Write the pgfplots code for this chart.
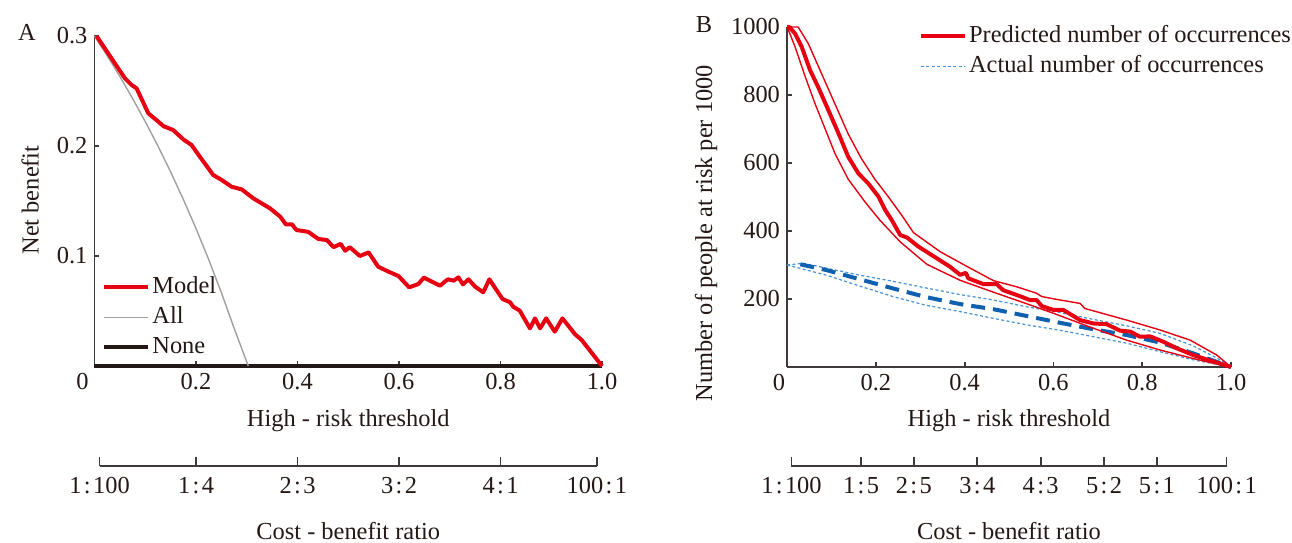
\documentclass[border=0pt]{standalone}
\usepackage{pgfplots}
\pgfplotsset{compat=1.18}
\usepackage{fontspec}
\setmainfont{Liberation Serif}
\definecolor{myred}{RGB}{230,0,18}
\definecolor{allgray}{RGB}{160,160,160}
\definecolor{noneblk}{RGB}{35,24,21}
\definecolor{axisc}{RGB}{62,58,57}
\definecolor{textc}{RGB}{35,24,21}
\definecolor{blueD}{RGB}{16,96,176}
\definecolor{blueL}{RGB}{70,145,215}
\newcommand{\rt}[2]{#1\kern1.2pt:\kern1.2pt#2}
\newcommand{\fs}{\fontsize{12.2}{14}\selectfont}
\pgfplotsset{
  base/.style={scale only axis, axis lines=left,
    axis line style={-, line width=0.9pt, draw=axisc},
    every tick/.style={line width=0.9pt, draw=axisc},
    major tick length=2.5pt, tick align=inside,
    enlargelimits=false, clip=false,
    tick label style={font=\fs, text=textc},
    label style={font=\fs, text=textc},
    /pgf/number format/assume math mode=true},
  cost/.style={scale only axis, axis x line=bottom, axis y line=none,
    axis line style={-, line width=0.9pt, draw=axisc},
    every tick/.style={line width=0.9pt, draw=axisc},
    major tick length=4.5pt, tick align=inside,
    enlargelimits=false, clip=false, height=5pt, ymin=0, ymax=1,
    tick label style={font=\fs, text=textc, yshift=-2pt},
    label style={font=\fs, text=textc},
    xlabel={Cost - benefit ratio},
    xlabel style={at={(axis description cs:0.5,0)}, anchor=center, yshift=-32.5pt}},
  leg/.style={legend cell align=left,
    legend style={draw=none, fill=none, font=\fs, text=textc,
      nodes={text height=9pt, text depth=2.5pt, inner sep=1pt}, row sep=1.5pt},
    legend image code/.code={\draw[##1] (0pt,0pt) -- (22pt,0pt);}}
}
\begin{document}
\begin{tikzpicture}[font=\fs]
\useasboundingbox (0pt,0pt) rectangle (646pt,271pt);
\node[text=textc] at (13.5pt,255pt) {A};
\node[text=textc] at (352pt,258.5pt) {B};
% ---------------- Panel A ----------------
\begin{axis}[base, leg, at={(47.25pt,88pt)}, anchor=south west,
  width=253.75pt, height=165pt, xmin=0, xmax=1, ymin=0, ymax=0.3,
  xtick={0,0.2,0.4,0.6,0.8,1}, xticklabels={\llap{0\hspace{3pt}},0.2,0.4,0.6,0.8,1.0},
  ytick={0.1,0.2,0.3}, yticklabels={0.1,0.2,0.3},
  xlabel={High - risk threshold}, ylabel={Net benefit},
  xlabel style={at={(axis description cs:0.5,-0.167)}, anchor=center},
  ylabel style={at={(axis description cs:-0.127,0.503)}, anchor=center},
  legend style={at={(axis description cs:0.003,0.293)}, anchor=north west}]
\addlegendimage{myred, line width=2pt}
\addlegendentry{Model}
\addlegendimage{allgray, line width=0.7pt}
\addlegendentry{All}
\addlegendimage{noneblk, line width=2pt}
\addlegendentry{None}
\addplot[forget plot, noneblk, line width=2pt] coordinates {(0,0) (1,0)};
\addplot[forget plot, allgray, line width=0.7pt] coordinates {
(0,0.3) (0.025,0.2821) (0.05,0.2632) (0.075,0.2432) (0.1,0.2222) (0.125,0.2)
(0.15,0.1765) (0.175,0.1515) (0.2,0.125) (0.225,0.0968) (0.25,0.0667) (0.275,0.0345) (0.303,0)};
\addplot[forget plot, myred, line width=2pt, line join=round] coordinates {
(0.004,0.300) (0.060,0.2615) (0.073,0.2555) (0.083,0.2524) (0.106,0.2297) (0.122,0.2236)
(0.136,0.218) (0.155,0.2145) (0.175,0.206) (0.191,0.201) (0.208,0.190) (0.234,0.1736)
(0.251,0.169) (0.270,0.163) (0.290,0.1606) (0.313,0.1524) (0.346,0.1433) (0.366,0.1357)
(0.377,0.1288) (0.389,0.1288) (0.398,0.1236) (0.421,0.122) (0.441,0.1155) (0.458,0.1145)
(0.471,0.108) (0.485,0.111) (0.494,0.1048) (0.503,0.108) (0.523,0.100) (0.540,0.1033)
(0.559,0.0903) (0.579,0.0858) (0.599,0.0818) (0.620,0.0715) (0.638,0.0745) (0.649,0.0803)
(0.681,0.073) (0.696,0.0788) (0.708,0.0776) (0.717,0.0806) (0.726,0.0742) (0.737,0.0788)
(0.750,0.0721) (0.766,0.067) (0.778,0.0788) (0.804,0.0609) (0.819,0.0579) (0.825,0.0539)
(0.838,0.0503) (0.858,0.0342) (0.868,0.0433) (0.878,0.0342) (0.890,0.0433) (0.907,0.0312)
(0.922,0.0433) (0.947,0.0288) (0.960,0.0236) (1.0,0.0)};
\end{axis}
\begin{axis}[cost, at={(49.79pt,38pt)}, anchor=south west, width=248.675pt,
  xmin=0.01, xmax=0.99, xtick={0.01,0.2,0.4,0.6,0.8,0.99},
  xticklabels={\rt{1}{100},\rt{1}{4},\rt{2}{3},\rt{3}{2},\rt{4}{1},\rt{100}{1}}]
\addplot[draw=none] coordinates {(0.01,0) (0.99,0)};
\end{axis}
% ---------------- Panel B ----------------
\begin{axis}[base, leg, at={(393.5pt,87.5pt)}, anchor=south west,
  width=222pt, height=170pt, xmin=0, xmax=1, ymin=0, ymax=1000,
  xtick={0,0.2,0.4,0.6,0.8,1}, xticklabels={\llap{0\hspace{1pt}},0.2,0.4,0.6,0.8,1.0},
  ytick={200,400,600,800,1000}, yticklabels={200,400,600,800,1000},
  xlabel={High - risk threshold}, ylabel={Number of people at risk per 1000},
  xlabel style={at={(axis description cs:0.5,-0.159)}, anchor=center},
  ylabel style={at={(axis description cs:-0.182,0.394)}, anchor=center},
  legend style={at={(axis description cs:0.283,1.025)}, anchor=north west}]
\addlegendimage{myred, line width=2pt}
\addlegendentry{Predicted number of occurrences}
\addlegendimage{blueL, line width=0.7pt, dash pattern=on 1.5pt off 1.2pt}
\addlegendentry{Actual number of occurrences}
% blue actual
\addplot[forget plot, blueL, line width=0.6pt, dash pattern=on 1.5pt off 1.2pt] coordinates {
(0,300) (0.037,305) (0.164,270) (0.239,252) (0.315,232) (0.390,213) (0.465,197) (0.540,177)
(0.615,160) (0.690,140) (0.765,121) (0.840,99) (0.915,62) (0.970,25) (1,0)};
\addplot[forget plot, blueL, line width=0.6pt, dash pattern=on 1.5pt off 1.2pt] coordinates {
(0,300) (0.089,270) (0.164,238) (0.239,207) (0.315,181) (0.390,163) (0.465,143) (0.540,124)
(0.615,108) (0.690,89) (0.765,70) (0.840,45) (0.915,21) (1,0)};
\addplot[forget plot, blueD, line width=2pt, dash pattern=on 7pt off 4pt] coordinates {
(0.03,302) (0.089,285) (0.164,258) (0.239,231) (0.315,205) (0.390,185) (0.465,170) (0.540,150)
(0.615,130) (0.690,111) (0.765,94) (0.840,72) (0.915,40) (1,0)};
% red predicted
\addplot[forget plot, myred, line width=0.7pt, line join=round] coordinates {
(0,1000) (0.025,1000) (0.048,951) (0.070,886) (0.093,818) (0.116,750) (0.138,685) (0.168,612)
(0.198,552) (0.228,501) (0.258,447) (0.285,395) (0.345,339) (0.405,296) (0.465,254) (0.517,236)
(0.562,217) (0.574,207) (0.607,199) (0.660,187) (0.671,172) (0.765,138) (0.840,109) (0.908,79)
(0.968,35) (1,0)};
\addplot[forget plot, myred, line width=0.7pt, line join=round] coordinates {
(0,1000) (0.005,985) (0.018,942) (0.041,854) (0.063,775) (0.086,700) (0.108,628) (0.138,552)
(0.176,485) (0.209,432) (0.255,368) (0.315,302) (0.390,255) (0.465,220) (0.540,186) (0.600,158)
(0.690,114) (0.765,79) (0.840,50) (0.915,25) (0.950,14) (1,0)};
\addplot[forget plot, myred, line width=2pt, line join=round] coordinates {
(0,1000) (0.005,1000) (0.018,981) (0.033,942) (0.052,873) (0.070,824) (0.093,756) (0.116,687)
(0.138,618) (0.161,569) (0.183,540) (0.206,501) (0.221,462) (0.236,432) (0.255,388) (0.270,381)
(0.296,354) (0.337,320) (0.367,295) (0.390,271) (0.403,277) (0.408,261) (0.442,244) (0.472,244)
(0.487,226) (0.517,212) (0.547,197) (0.562,197) (0.574,179) (0.600,168) (0.622,168) (0.660,138)
(0.690,128) (0.720,126) (0.750,107) (0.773,104) (0.795,89) (0.818,90) (0.848,74) (0.878,55)
(0.915,35) (0.960,16) (1,0)};
\end{axis}
\begin{axis}[cost, at={(395.72pt,38pt)}, anchor=south west, width=217.56pt,
  xmin=0.01, xmax=0.99, xtick={0.01,0.1667,0.2857,0.4286,0.5714,0.7143,0.8333,0.99},
  xticklabels={\rt{1}{100},\rt{1}{5},\rt{2}{5},\rt{3}{4},\rt{4}{3},\rt{5}{2},\rt{5}{1},\rt{100}{1}}]
\addplot[draw=none] coordinates {(0.01,0) (0.99,0)};
\end{axis}
\end{tikzpicture}
\end{document}
